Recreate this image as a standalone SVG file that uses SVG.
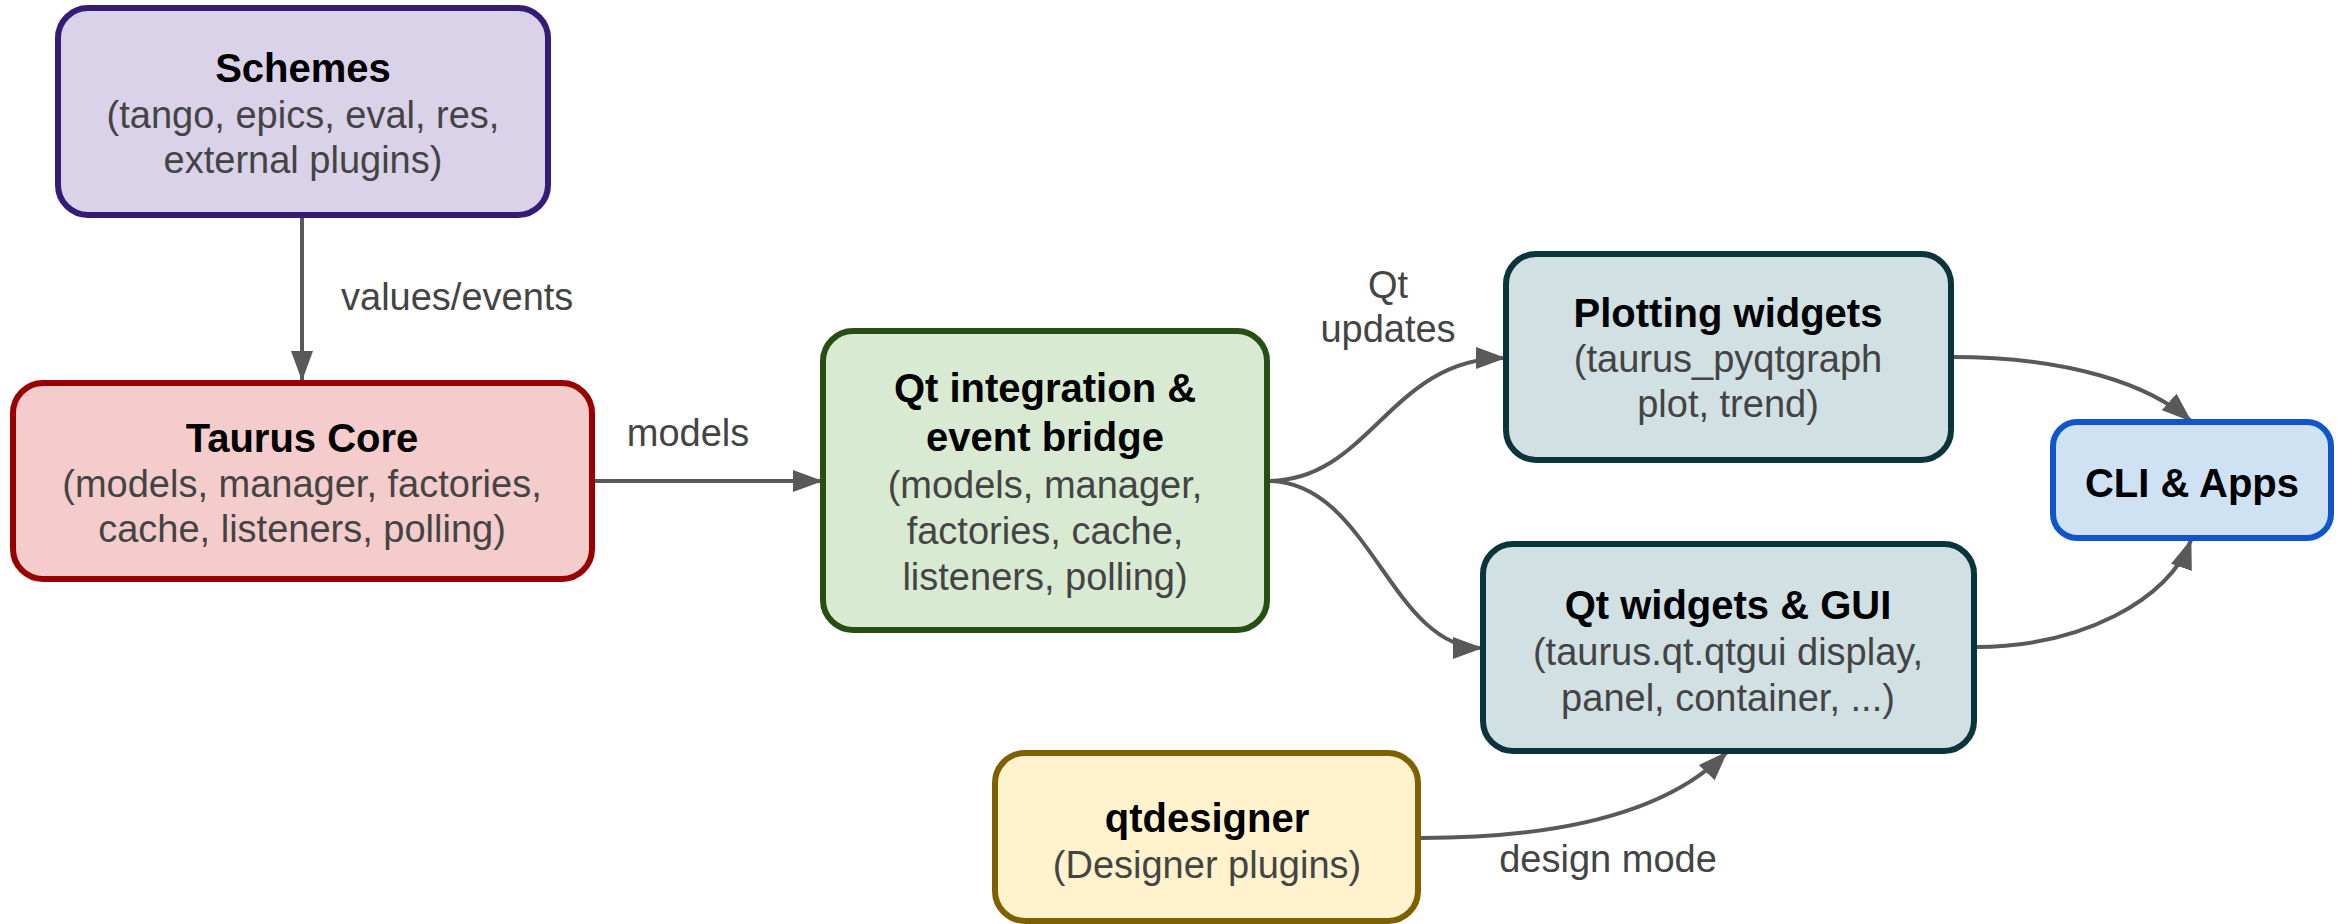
<svg xmlns="http://www.w3.org/2000/svg" width="2346" height="924" viewBox="0 0 2346 924">
<style>
  .box { stroke-width: 6; }
  .t { font-family: "Liberation Sans", Arial, sans-serif; font-size: 40px; font-weight: bold; fill: #000; text-anchor: middle; }
  .s { font-family: "Liberation Sans", Arial, sans-serif; font-size: 38px; fill: #444; text-anchor: middle; }
  .lbl { font-family: "Liberation Sans", Arial, sans-serif; font-size: 38px; fill: #444; }
  .edge { fill: none; stroke: #595959; stroke-width: 4; marker-end: url(#arrow); }
</style>
<defs>
  <marker id="arrow" markerUnits="userSpaceOnUse" markerWidth="30" markerHeight="22" refX="29" refY="11" orient="auto">
    <path d="M0,0 L30,11 L0,22 Z" fill="#595959"/>
  </marker>
</defs>
<rect width="2346" height="924" fill="#fff"/>

<g id="connectors">
  <path class="edge" d="M302,218 L302,380"/>
  <path class="edge" d="M594,481 L822,481"/>
  <path class="edge" d="M1268,481 C1370,481 1390,358 1505,358"/>
  <path class="edge" d="M1268,481 C1370,481 1390,648 1482,648"/>
  <path class="edge" d="M1952,357 C2070,357 2150,385 2191,421"/>
  <path class="edge" d="M1976,647 C2080,647 2170,600 2191,540"/>
  <path class="edge" d="M1421,838 C1590,838 1680,800 1727,752"/>
  <text class="lbl" x="341" y="310">values/events</text>
  <text class="lbl" x="688" y="446" text-anchor="middle">models</text>
  <text class="lbl" x="1388" y="298" text-anchor="middle">Qt</text>
  <text class="lbl" x="1388" y="342" text-anchor="middle">updates</text>
  <text class="lbl" x="1608" y="872" text-anchor="middle">design mode</text>
</g>

<g id="schemes">
  <rect class="box" x="58" y="8" width="490" height="207" rx="30" fill="#d9d2e9" stroke="#351c75"/>
  <text class="t" x="303" y="82">Schemes</text>
  <text class="s" x="303" y="128">(tango, epics, eval, res,</text>
  <text class="s" x="303" y="173">external plugins)</text>
</g>

<g id="taurus-core">
  <rect class="box" x="13" y="383" width="579" height="196" rx="30" fill="#f4cccc" stroke="#990000"/>
  <text class="t" x="302" y="452">Taurus Core</text>
  <text class="s" x="302" y="497">(models, manager, factories,</text>
  <text class="s" x="302" y="542">cache, listeners, polling)</text>
</g>

<g id="qt-integration">
  <rect class="box" x="823" y="331" width="444" height="299" rx="30" fill="#d9ead3" stroke="#274e13"/>
  <text class="t" x="1045" y="402">Qt integration &amp;</text>
  <text class="t" x="1045" y="451">event bridge</text>
  <text class="s" x="1045" y="498">(models, manager,</text>
  <text class="s" x="1045" y="544">factories, cache,</text>
  <text class="s" x="1045" y="590">listeners, polling)</text>
</g>

<g id="plotting-widgets">
  <rect class="box" x="1506" y="254" width="445" height="206" rx="30" fill="#d0e0e3" stroke="#0c343d"/>
  <text class="t" x="1728" y="327">Plotting widgets</text>
  <text class="s" x="1728" y="372">(taurus_pyqtgraph</text>
  <text class="s" x="1728" y="417">plot, trend)</text>
</g>

<g id="qt-widgets">
  <rect class="box" x="1483" y="544" width="491" height="207" rx="30" fill="#d0e0e3" stroke="#0c343d"/>
  <text class="t" x="1728" y="619">Qt widgets &amp; GUI</text>
  <text class="s" x="1728" y="665">(taurus.qt.qtgui display,</text>
  <text class="s" x="1728" y="711">panel, container, ...)</text>
</g>

<g id="cli-apps">
  <rect class="box" x="2053" y="422" width="278" height="116" rx="24" fill="#cfe2f3" stroke="#1155cc"/>
  <text class="t" x="2192" y="497">CLI &amp; Apps</text>
</g>

<g id="qtdesigner">
  <rect class="box" x="995" y="753" width="423" height="168" rx="30" fill="#fff2cc" stroke="#7f6000"/>
  <text class="t" x="1207" y="832">qtdesigner</text>
  <text class="s" x="1207" y="878">(Designer plugins)</text>
</g>
</svg>
